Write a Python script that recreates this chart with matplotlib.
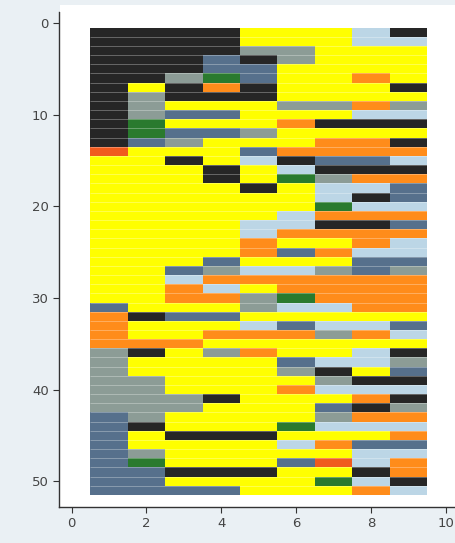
import numpy as np
import matplotlib.pyplot as plt
from matplotlib.patches import Rectangle

# state colours
palette = {
    'K': '#262626',  # black
    'Y': '#ffff00',  # yellow
    'G': '#8c9c96',  # grey-green
    'B': '#56708c',  # steel blue
    'D': '#2a7a2e',  # dark green
    'O': '#ff8c1a',  # orange
    'L': '#bcd6e6',  # light blue
    'R': '#f05a1e',  # red-orange
}

# one string per sequence (row), one letter per position 1..9
sequences = [
    'KKKKYYYLK', 'KKKKYYYLL', 'KKKKGGYYY', 'KKKBKGYYY', 'KKKBBYYYY',
    'KKGDBYYOY', 'KYKOKYYYK', 'KGKKKYYYY', 'KGYYYGGOG', 'KGBBYYYLL',
    'KDYYYOKKK', 'KDBBGYYYY', 'KBGYYYOOK', 'RYYYBOOOO', 'YYKYLKBBL',
    'YYYKYLKKK', 'YYYKYDGOO', 'YYYYKYLLB', 'YYYYYYLKB', 'YYYYYYDLL',
    'YYYYYLOOO', 'YYYYLLKKB', 'YYYYLOOOO', 'YYYYOYYOL', 'YYYYOBOLL',
    'YYYBYYYBB', 'YYBGLLGBG', 'YYLOOOOOO', 'YYOLYOOOO', 'YYOOGDOOO',
    'BYYYGLLOO', 'OKBBYYYYY', 'OYYYLBLLB', 'OYYOOOGOL', 'OOOYYYYYY',
    'GKYGOYYLK', 'GYYYYBLLG', 'GYYYYGKYB', 'GGYYYYGKK', 'GGYYYOLLL',
    'GGGKYYYOK', 'GGGYYYBKG', 'BGYYYYGOO', 'BKYYYDLLL', 'BYKKKYYYO',
    'BYYYYLOBB', 'BGYYYYYLL', 'BDYYYBRLO', 'BBKKKYYKO', 'BBYYYYDLK',
    'BBBBYYYOL',
]
positions = np.arange(1, 10)
rows = np.arange(1, len(sequences) + 1)

fig = plt.figure(figsize=(4.56, 5.43), dpi=100, facecolor='#eaf0f4')
fig.patches.append(Rectangle((0.131, 0.978), 0.869, 0.013, transform=fig.transFigure,
                             facecolor='white', edgecolor='none'))
ax = fig.add_axes([0.130, 0.0667, 0.870, 0.911])
ax.set_facecolor('white')

for r, seq in zip(rows, sequences):
    for p, s in zip(positions, seq):
        ax.barh(r, 1, left=p - 0.5, height=1.0, color=palette[s], linewidth=0)

# faint separators between sequences
ax.hlines(rows[:-1] + 0.5, 0.5, 9.5, colors='white', alpha=0.35, linewidth=0.6)

ax.set_xlim(-0.33, 10.27)
ax.set_ylim(52.8, -1.2)
ax.set_xticks([0, 2, 4, 6, 8, 10])
ax.set_yticks([0, 10, 20, 30, 40, 50])
for side in ['top', 'right']:
    ax.spines[side].set_visible(False)
for side in ['left', 'bottom']:
    ax.spines[side].set_color('#333333')
    ax.spines[side].set_linewidth(1.0)
ax.tick_params(colors='#333333', labelcolor='#444444', labelsize=9.5,
               length=4, width=0.8)

fig.savefig('out.png', dpi=100, facecolor=fig.get_facecolor())
